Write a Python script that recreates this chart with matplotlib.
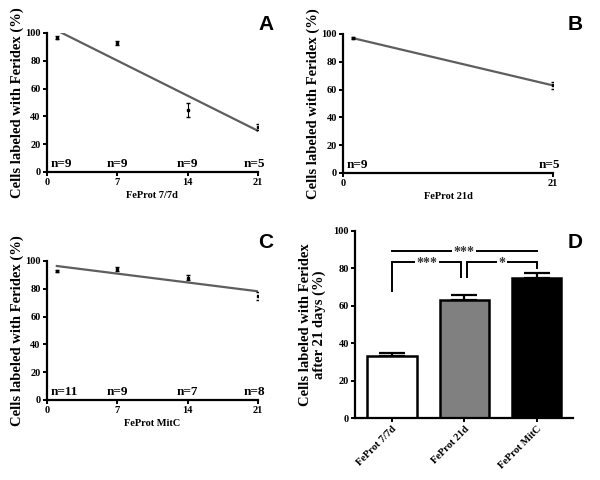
import numpy as np
import matplotlib
matplotlib.use("Agg")
import matplotlib.pyplot as plt

serif = "Liberation Serif"
sans = "Liberation Sans"
line_grey = "#5e5e5e"

# panel A: FeProt 7/7d
a_days = [1, 7, 14, 21]
a_vals = [96.5, 93, 44.5, 32.5]
a_err = [1, 1.5, 5, 2]
a_n = ["n=9", "n=9", "n=9", "n=5"]

# panel B: FeProt 21d
b_days = [1, 21]
b_vals = [97, 63]
b_err = [0.8, 2.5]
b_n = ["n=9", "n=5"]

# panel C: FeProt MitC
c_days = [1, 7, 14, 21]
c_vals = [93, 94, 88, 75]
c_err = [0.8, 1.5, 2, 3]
c_n = ["n=11", "n=9", "n=7", "n=8"]

# panel D: after 21 days
d_groups = ["FeProt 7/7d", "FeProt 21d", "FeProt MitC"]
d_vals = [33, 63, 75]
d_err = [2, 3, 2.5]
d_colors = ["white", "#808080", "black"]
# (left bar, right bar, label, height)
d_sig = [(0, 2, "***", 89), (0, 1, "***", 83.5), (1, 2, "*", 83.5)]

ylab = "Cells labeled with Feridex (%)"


def style(ax):
    for s in ["top", "right"]:
        ax.spines[s].set_visible(False)
    for s in ["left", "bottom"]:
        ax.spines[s].set_linewidth(1.6)
    ax.tick_params(width=1.4, length=3, pad=1.5)
    for lab in ax.get_xticklabels() + ax.get_yticklabels():
        lab.set_fontfamily(serif)
        lab.set_fontweight("bold")
        lab.set_fontsize(7.5)


def time_panel(ax, days, vals, err, ns, xlab, xticks, fit=True):
    days = np.array(days, float)
    vals = np.array(vals, float)
    if fit:
        k, b = np.polyfit(days, vals, 1)
        xs = np.array([days[0], days[-1]])
        ax.plot(xs, k * xs + b, color=line_grey, lw=1.6, zorder=2)
    else:
        ax.plot(days, vals, color=line_grey, lw=1.6, zorder=2)
    ax.errorbar(days, vals, yerr=err, fmt="s", ms=2, color="black",
                ecolor="black", elinewidth=0.8, capsize=1.5, zorder=3)
    ax.set_xlim(0, 21)
    ax.set_ylim(0, 100)
    ax.set_yticks([0, 20, 40, 60, 80, 100])
    ax.set_xticks(xticks)
    ax.set_xlabel(xlab, fontfamily=serif, fontweight="bold", fontsize=7.5, labelpad=3)
    ax.set_ylabel(ylab, fontfamily=serif, fontweight="bold", fontsize=10.5, labelpad=1)
    for i, (d, t) in enumerate(zip(days, ns)):
        if i == 0:
            x, ha = 0.35, "left"
        elif i == len(days) - 1:
            x, ha = 21.7, "right"
        else:
            x, ha = d, "center"
        ax.text(x, 1.5, t, ha=ha, va="bottom", fontfamily=serif,
                fontweight="bold", fontsize=9.5, clip_on=False)
    style(ax)


fig = plt.figure(figsize=(6, 4.8), dpi=100)

axA = fig.add_axes([0.078, 0.6417, 0.352, 0.2896])
time_panel(axA, a_days, a_vals, a_err, a_n, "FeProt 7/7d", [0, 7, 14, 21])

axB = fig.add_axes([0.5717, 0.6396, 0.35, 0.2896])
time_panel(axB, b_days, b_vals, b_err, b_n, "FeProt 21d", [0, 21], fit=False)

axC = fig.add_axes([0.078, 0.1667, 0.352, 0.2896])
time_panel(axC, c_days, c_vals, c_err, c_n, "FeProt MitC", [0, 7, 14, 21])

axD = fig.add_axes([0.5917, 0.129, 0.3633, 0.39])
pos = np.arange(len(d_groups))
axD.bar(pos, d_vals, width=0.68, color=d_colors, edgecolor="black", linewidth=1.8, zorder=2)
axD.errorbar(pos, d_vals, yerr=[np.zeros(len(d_err)), d_err], fmt="none",
             ecolor="black", elinewidth=1.6, capsize=9.5, capthick=1.6, zorder=1)
axD.set_xlim(-0.51, 2.5)
axD.set_ylim(0, 100)
axD.set_yticks([0, 20, 40, 60, 80, 100])
axD.set_xticks(pos)
axD.set_xticklabels(d_groups)
axD.set_ylabel("Cells labeled with Feridex\nafter 21 days (%)", fontfamily=serif,
               fontweight="bold", fontsize=10.5, labelpad=5, linespacing=1.1)
style(axD)
for lab in axD.get_xticklabels():
    lab.set_rotation(45)
    lab.set_ha("right")
    lab.set_rotation_mode("anchor")
    lab.set_fontsize(7.5)

# significance brackets
legs = {(0, 1): ((0, 68), (0.96, 75.5)), (1, 2): ((1.04, 75.5), (2, 80))}
for i, j, t, h in d_sig:
    if (i, j) in legs:
        (x0, b0), (x1, b1) = legs[(i, j)]
        axD.plot([x0, x0, x1, x1], [b0, h, h, b1], color="black", lw=1.4,
                 solid_joinstyle="miter")
    else:
        x0, x1 = i, j
        axD.plot([x0, x1], [h, h], color="black", lw=1.4)
    axD.text((x0 + x1) / 2, h - 0.8, t, ha="center", va="center", fontfamily=serif,
             fontweight="bold", fontsize=10, color="#333333",
             bbox=dict(facecolor="white", edgecolor="none", pad=1.0))

for letter, x, y in [("A", 266, 24), ("B", 575, 24), ("C", 266, 242), ("D", 575, 242)]:
    fig.text(x / 600, 1 - y / 480, letter, ha="center", va="center",
             fontfamily=sans, fontweight="bold", fontsize=15)

fig.savefig("out.png", dpi=100)
